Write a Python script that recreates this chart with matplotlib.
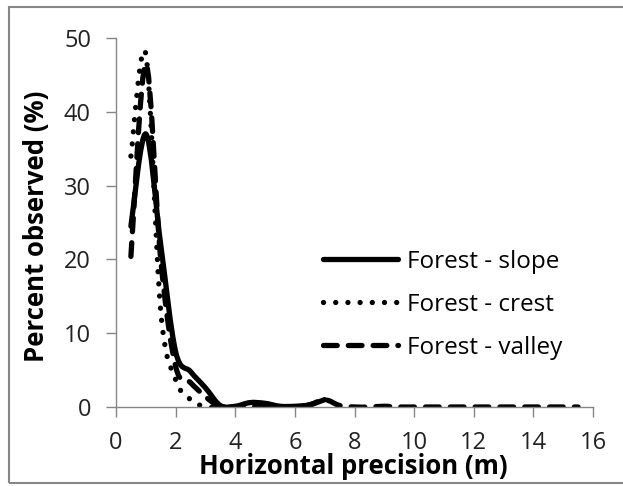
import numpy as np
import matplotlib
matplotlib.use("Agg")
import matplotlib.pyplot as plt
from matplotlib.path import Path
from matplotlib.patches import PathPatch, Rectangle
from matplotlib.lines import Line2D

# values (percent observed per 0.5 m bin)
x_slope = [0.5, 1.0, 1.5, 2.0, 2.5, 3.0, 3.5, 4.0, 4.5, 5.0, 5.5, 6.0, 6.5, 7.0]
y_slope = [24.5, 37.0, 22.0, 7.5, 4.8, 2.6, 0.2, 0.1, 0.6, 0.5, 0.1, 0.1, 0.3, 1.0]

x_crest = [0.5, 1.0, 1.5, 2.0, 2.5, 3.0, 3.5, 4.0]
y_crest = [34.0, 47.8, 13.0, 3.7, 1.0, 0.0, 0.0, 0.0]

x_valley = [0.5, 1.0, 1.5, 2.0, 2.5, 3.0, 3.5, 4.0, 4.5, 5.0, 5.5, 6.0, 6.5, 7.0,
            7.5, 8.0, 8.5, 9.0, 9.5, 10.0, 10.5, 11.0, 11.5, 12.0, 12.5, 13.0,
            13.5, 14.0, 14.5, 15.0, 15.5]
y_valley = [20.4, 46.5, 20.0, 5.5, 3.3, 1.4, 0.0, 0.0, 0.0, 0.0, 0.0, 0.0, 0.3, 1.0,
            0.2, 0.0, 0.0, 0.1, 0.0, 0.0, 0.0, 0.0, 0.0, 0.0, 0.0, 0.0,
            0.0, 0.0, 0.0, 0.0, 0.0]

labels = ["Forest - slope", "Forest - crest", "Forest - valley"]

FONT = "Open Sans"
GREY = "#868686"
W, H = 623, 486


# smoothed line like excel's "smoothed line" option (bezier through the points)
def smooth_path(xs, ys):
    pts = np.column_stack([xs, ys])
    n = len(pts)
    verts = [pts[0]]
    codes = [Path.MOVETO]
    for i in range(n - 1):
        p0 = pts[max(i - 1, 0)]
        p1 = pts[i]
        p2 = pts[i + 1]
        p3 = pts[min(i + 2, n - 1)]
        c1 = p1 + (p2 - p0) / 6.0
        c2 = p2 - (p3 - p1) / 6.0
        verts += [c1, c2, p2]
        codes += [Path.CURVE4] * 3
    return Path(verts, codes)


def draw_series(ax, xs, ys, ls, lw):
    patch = PathPatch(smooth_path(xs, ys), fill=False, edgecolor="black",
                      linewidth=lw, linestyle=ls, capstyle="round",
                      joinstyle="round", transform=ax.transData)
    ax.add_patch(patch)


fig = plt.figure(figsize=(W / 100, H / 100), dpi=100)
ax = fig.add_axes([116 / W, 1 - 407 / H, (593 - 116) / W, (407 - 38) / H])

styles = ["-", (0, (0.01, 2.3)), (0, (2.6, 2.1))]
lw = 3.8
draw_series(ax, x_slope, y_slope, styles[0], lw)
draw_series(ax, x_crest, y_crest, styles[1], lw)
draw_series(ax, x_valley, y_valley, styles[2], lw)

ax.set_xlim(0, 16)
ax.set_ylim(0, 50)
ax.set_xticks(range(0, 17, 2))
ax.set_yticks(range(0, 51, 10))

for s in ["top", "right"]:
    ax.spines[s].set_visible(False)
for s in ["left", "bottom"]:
    ax.spines[s].set_color(GREY)
    ax.spines[s].set_linewidth(1.0)
ax.tick_params(direction="out", length=7, width=1.0, color=GREY,
               labelsize=17, labelcolor="#222222")
ax.tick_params(axis="x", pad=10)
ax.tick_params(axis="y", pad=11)
for t in ax.get_xticklabels() + ax.get_yticklabels():
    t.set_fontfamily(FONT)

# axis titles placed like the excel chart (x title tucked under the ticks)
fig.text(353 / W, 1 - 474 / H, "Horizontal precision (m)", fontsize=18.5,
         fontweight="bold", family=FONT, ha="center", va="baseline")
fig.text(37 / W, 1 - 226 / H, "Percent observed (%)", fontsize=18.5,
         fontweight="bold", family=FONT, ha="center", va="center",
         rotation=90)

handles = [Line2D([], [], color="black", lw=lw, linestyle=st,
                  solid_capstyle="round", dash_capstyle="round")
           for st in styles]
leg = ax.legend(handles, labels, loc="upper left",
                bbox_to_anchor=(323 / W, 1 - 250 / H),
                bbox_transform=fig.transFigure, frameon=False, borderpad=0,
                borderaxespad=0, prop={"family": FONT, "size": 17.5},
                handlelength=3.1, handletextpad=0.35, labelspacing=0.78)

# grey frame around the whole chart
fig.patches.append(Rectangle((9 / W, 3 / H), 1.0, 1 - 10 / H,
                             transform=fig.transFigure, fill=False,
                             edgecolor=GREY, linewidth=1.5))

fig.savefig("out.png", dpi=100)
